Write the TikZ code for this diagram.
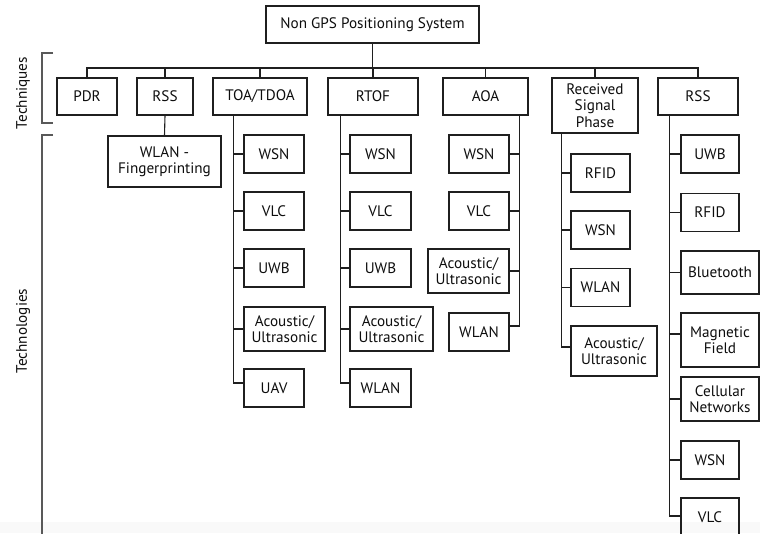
\documentclass[tikz,border=0pt]{standalone}
\usepackage{fontspec}
\setmainfont{PT Sans}
\begin{document}
\begin{tikzpicture}[x=1pt,y=-1pt,
  every node/.style={font=\fontsize{15.2}{16.5}\selectfont, text=black!95},
  box/.style={draw=black!88, line width=1.1pt, rectangle, inner sep=0pt,
    align=center, minimum height=38pt},
  wire/.style={draw=black!88, line width=1.1pt},
  bracket/.style={draw=black!65, line width=1.6pt}]
\useasboundingbox (0,0) rectangle (760,533);
\clip (0,0) rectangle (760,533);
\fill[black!2.5] (0,522) rectangle (760,533);

% root and technique boxes
\node[box, minimum width=213pt, minimum height=37pt] (root) at (372.5,24.5) {Non GPS Positioning System};
\node[box, minimum width=60pt, minimum height=37pt] (pdr)  at (87,96.5)    {PDR};
\node[box, minimum width=56pt, minimum height=37pt] (rss)  at (165,96.5)   {RSS};
\node[box, minimum width=94pt, minimum height=37pt] (toa)  at (260,96.5)   {TOA/TDOA};
\node[box, minimum width=90pt, minimum height=37pt] (rtof) at (373,96.5)   {RTOF};
\node[box, minimum width=85pt, minimum height=37pt] (aoa)  at (485.5,96.5) {AOA};
\node[box, minimum width=86pt, minimum height=55pt] (rsp)  at (595,105.5)  {Received\\Signal\\Phase};
\node[box, minimum width=80pt, minimum height=37pt] (rssb) at (698,96.5)   {RSS};

% bus between root and techniques
\coordinate (bus) at (0,68);
\draw[wire] (root.south) -- (root.south |- bus);
\draw[wire] (pdr.north) -- (pdr.north |- bus) -- (rssb.north |- bus) -- (rssb.north);
\foreach \t in {rss,toa,rtof,aoa,rsp} \draw[wire] (\t.north) -- (\t.north |- bus);

% RSS -> fingerprinting
\node[box, minimum width=113pt, minimum height=51pt] (wfp) at (164.5,161.5) {WLAN -\\Fingerprinting};
\draw[wire] (rss.south) -- (wfp.north);

% TOA/TDOA technologies
\node[box, minimum width=60pt] (t1) at (274,154) {WSN};
\node[box, minimum width=60pt] (t2) at (274,211) {VLC};
\node[box, minimum width=60pt] (t3) at (274,268) {UWB};
\node[box, minimum width=81pt, minimum height=44pt] (t4) at (284.5,329) {Acoustic/\\Ultrasonic};
\node[box, minimum width=60pt] (t5) at (274,388) {UAV};
\coordinate (ta) at ([xshift=21pt]toa.south west);
\draw[wire] (ta) |- ([yshift=5pt]t5.west);
\foreach \t in {t1,t2,t3,t4} \draw[wire] (ta |- \t.west) -- (\t.west);

% RTOF technologies
\node[box, minimum width=61pt] (f1) at (380.5,154) {WSN};
\node[box, minimum width=61pt] (f2) at (380.5,211) {VLC};
\node[box, minimum width=61pt] (f3) at (380.5,268) {UWB};
\node[box, minimum width=83pt, minimum height=44pt] (f4) at (391.5,329) {Acoustic/\\Ultrasonic};
\node[box, minimum width=61pt] (f5) at (380.5,388) {WLAN};
\coordinate (fa) at ([xshift=13pt]rtof.south west);
\draw[wire] (fa) |- ([yshift=5pt]f5.west);
\foreach \t in {f1,f2,f3,f4} \draw[wire] (fa |- \t.west) -- (\t.west);

% AOA technologies
\node[box, minimum width=60pt] (a1) at (479,154) {WSN};
\node[box, minimum width=60pt] (a2) at (479,211) {VLC};
\node[box, minimum width=81pt, minimum height=44pt] (a3) at (468.5,271) {Acoustic/\\Ultrasonic};
\node[box, minimum width=60pt] (a4) at (479,332) {WLAN};
\coordinate (aa) at ([xshift=-9pt]aoa.south east);
\draw[wire] (aa) |- ([yshift=6pt]a4.east);
\foreach \t in {a1,a2,a3} \draw[wire] (aa |- \t.east) -- (\t.east);

% Received signal phase technologies
\node[box, minimum width=59pt] (p1) at (600.5,173) {RFID};
\node[box, minimum width=59pt] (p2) at (600.5,230) {WSN};
\node[box, minimum width=59pt] (p3) at (600.5,287.5) {WLAN};
\node[box, minimum width=86pt, minimum height=50pt] (p4) at (614,351) {Acoustic/\\Ultrasonic};
\coordinate (pa) at ([xshift=10pt]rsp.south west);
\draw[wire] (pa) |- ([yshift=4pt]p4.west);
\foreach \t in {p1,p2,p3} \draw[wire] (pa |- \t.west) -- (\t.west);

% RSS technologies
\node[box, minimum width=58pt] (s1) at (710,154) {UWB};
\node[box, minimum width=58pt] (s2) at (710,212.5) {RFID};
\node[box, minimum width=78pt, minimum height=43pt] (s3) at (720,272.5) {Bluetooth};
\node[box, minimum width=78pt, minimum height=54pt] (s4) at (720,340) {Magnetic\\Field};
\node[box, minimum width=78pt, minimum height=44pt] (s5) at (720,399) {Cellular\\Networks};
\node[box, minimum width=58pt] (s6) at (710,460) {WSN};
\node[box, minimum width=58pt] (s7) at (710,517) {VLC};
\coordinate (sa) at ([xshift=12pt]rssb.south west);
\draw[wire] (sa) |- ([yshift=1pt]s7.west);
\foreach \t in {s1,s2,s3,s5,s6} \draw[wire] (sa |- \t.west) -- (\t.west);
\draw[wire] (sa |- s4.west) ++(0,-6) coordinate (s4t) -- (s4t -| s4.west);

% side brackets and labels
\coordinate (b1) at (42,53);
\coordinate (b2) at (42,123);
\coordinate (b3) at (42,135);
\coordinate (b4) at (42,540);
\draw[bracket] ([xshift=11pt]b1) -- (b1) -- (b2) -- ([xshift=11pt]b2);
\draw[bracket] ([xshift=11pt]b3) -- (b3) -- (b4);
\node[rotate=90] (lt) at (23,93) {Techniques};
\node[rotate=90] (lg) at (23,331) {Technologies};
\end{tikzpicture}
\end{document}
